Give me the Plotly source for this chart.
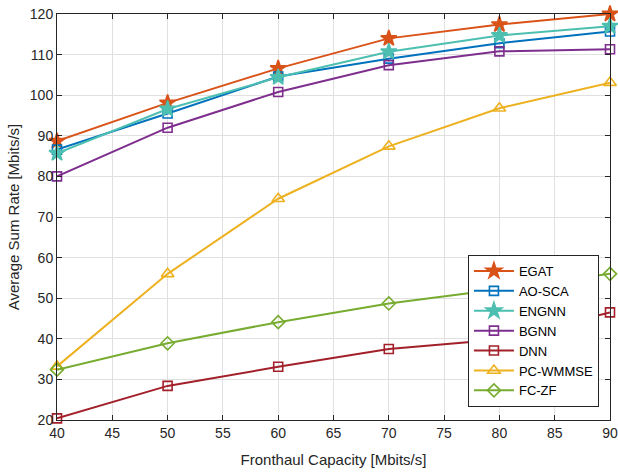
import plotly.graph_objects as go

capacity = [40, 50, 60, 70, 80, 90]

egat = [88.7, 98.1, 106.6, 114.0, 117.4, 120.0]
ao_sca = [86.6, 95.5, 104.6, 109.0, 112.8, 115.7]
engnn = [85.7, 96.6, 104.4, 110.7, 114.7, 117.0]
bgnn = [80.0, 92.0, 100.8, 107.4, 110.8, 111.3]
dnn = [20.4, 28.4, 33.1, 37.5, 39.8, 46.5]
pc_wmmse = [33.2, 56.0, 74.5, 87.4, 96.8, 103.1]
fc_zf = [32.4, 38.9, 44.1, 48.7, 52.2, 56.0]

x_ticks = [40, 45, 50, 55, 60, 65, 70, 75, 80, 85, 90]
y_ticks = [20, 30, 40, 50, 60, 70, 80, 90, 100, 110, 120]

series = [
    ("EGAT", egat, "#D95319", "star", 12),
    ("AO-SCA", ao_sca, "#0072BD", "square-open", 9),
    ("ENGNN", engnn, "#4DBFB0", "star", 12),
    ("BGNN", bgnn, "#7E2F8E", "square-open", 9),
    ("DNN", dnn, "#A2202A", "square-open", 9),
    ("PC-WMMSE", pc_wmmse, "#EDB120", "triangle-up-open", 11),
    ("FC-ZF", fc_zf, "#77AC30", "diamond-open", 10),
]

FONT = "Liberation Sans, Arial, sans-serif"

fig = go.Figure()
for name, vals, color, symbol, size in series:
    fig.add_trace(go.Scatter(
        x=capacity, y=vals, name=name, mode="lines+markers",
        line=dict(color=color, width=2),
        marker=dict(symbol=symbol, size=size, color=color,
                    line=dict(color=color, width=1.6)),
        cliponaxis=False,
    ))

axis_common = dict(
    showline=True, linecolor="#262626", linewidth=1, mirror="ticks",
    ticks="inside", ticklen=5, tickcolor="#262626",
    showgrid=True, gridcolor="#E0E0E0", gridwidth=1,
    zeroline=False, automargin=False,
    tickfont=dict(family=FONT, size=14, color="#262626"),
)

fig.update_xaxes(range=[40, 90], tickmode="array", tickvals=x_ticks,
                 ticktext=[str(v) for v in x_ticks],
                 title=dict(text="Fronthaul Capacity [Mbits/s]", standoff=14,
                            font=dict(family=FONT, size=15, color="#262626")),
                 **axis_common)
fig.update_yaxes(range=[20, 120], tickmode="array", tickvals=y_ticks,
                 ticktext=[str(v) for v in y_ticks],
                 title=dict(text="Average Sum Rate [Mbits/s]", standoff=6,
                            font=dict(family=FONT, size=15, color="#262626")),
                 **axis_common)

fig.update_layout(
    width=618, height=472,
    margin=dict(l=57, r=8, t=14, b=52),
    plot_bgcolor="white", paper_bgcolor="white",
    font=dict(family=FONT, color="#262626"),
    legend=dict(
        x=0.980, y=0.032, xanchor="right", yanchor="bottom",
        bgcolor="white", bordercolor="#262626", borderwidth=1,
        font=dict(family=FONT, size=13, color="#000000"),
        tracegroupgap=0, itemwidth=40,
    ),
    showlegend=True,
)

fig.write_html("out.html")
